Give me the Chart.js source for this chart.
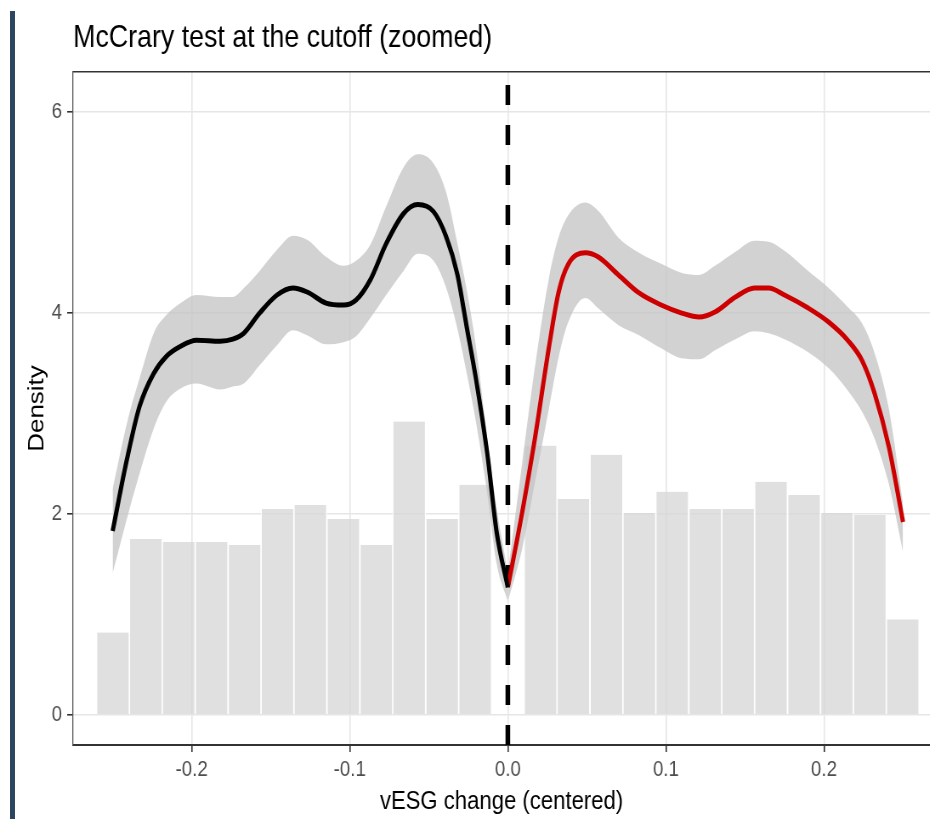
<!DOCTYPE html>
<html>
<head>
<meta charset="utf-8">
<script src="https://cdn.jsdelivr.net/npm/chart.js@4.4.1/dist/chart.umd.min.js"></script>
<style>
  html, body { margin: 0; padding: 0; background: #fff; overflow: hidden; width: 930px; height: 819px; }
  #wrap { position: absolute; left: 0; top: 0; width: 1094px; height: 819px; transform: scaleX(0.85); transform-origin: 0 0; }
  #c { display: block; width: 1094px; height: 819px; }
  #rule { position: absolute; left: 10px; top: 11px; width: 5px; height: 808px; background: #2c4661; }
</style>
</head>
<body>
<div id="wrap"><canvas id="c" width="1094" height="819"></canvas></div>
<div id="rule"></div>
<script>
// Histogram bins (centres and densities) on each side of the cutoff
const binCentersLeft  = [-0.2498, -0.2290, -0.2082, -0.1874, -0.1665, -0.1457, -0.1249, -0.1040, -0.0832, -0.0624, -0.0415, -0.0207];
const binHeightsLeft  = [0.82, 1.75, 1.72, 1.72, 1.69, 2.05, 2.09, 1.95, 1.69, 2.92, 1.95, 2.29];
const binCentersRight = [0.0207, 0.0415, 0.0624, 0.0832, 0.1040, 0.1249, 0.1457, 0.1665, 0.1874, 0.2082, 0.2290, 0.2498];
const binHeightsRight = [2.68, 2.15, 2.59, 2.01, 2.22, 2.05, 2.05, 2.32, 2.19, 2.01, 1.99, 0.95];

// Local-polynomial density estimate left of the cutoff, with its confidence band
const xLeft     = [-0.250, -0.241, -0.233, -0.224, -0.216, -0.207, -0.197, -0.182, -0.174, -0.167, -0.157, -0.146, -0.136, -0.127, -0.115, -0.104, -0.096, -0.087, -0.077, -0.066, -0.057, -0.047, -0.039, -0.032, -0.026, -0.020, -0.013, -0.007, 0.000];
const densLeft  = [1.83, 2.54, 3.07, 3.40, 3.57, 3.67, 3.73, 3.72, 3.74, 3.80, 4.00, 4.18, 4.25, 4.21, 4.10, 4.08, 4.13, 4.33, 4.69, 4.99, 5.08, 5.01, 4.76, 4.39, 3.86, 3.33, 2.60, 1.81, 1.27];
const upperLeft = [2.25, 2.90, 3.35, 3.80, 3.98, 4.10, 4.18, 4.16, 4.16, 4.25, 4.42, 4.63, 4.77, 4.73, 4.56, 4.47, 4.52, 4.68, 5.06, 5.45, 5.58, 5.49, 5.20, 4.70, 4.23, 3.65, 2.75, 2.05, 1.42];
const lowerLeft = [1.41, 1.95, 2.40, 2.85, 3.12, 3.25, 3.30, 3.24, 3.27, 3.30, 3.48, 3.68, 3.83, 3.78, 3.69, 3.71, 3.77, 3.95, 4.18, 4.42, 4.59, 4.52, 4.25, 3.85, 3.40, 2.90, 2.20, 1.50, 1.13];

// Density estimate right of the cutoff, with its confidence band
const xRight     = [0.000, 0.009, 0.017, 0.026, 0.032, 0.038, 0.049, 0.057, 0.070, 0.083, 0.097, 0.110, 0.121, 0.131, 0.144, 0.156, 0.165, 0.175, 0.190, 0.203, 0.215, 0.224, 0.232, 0.241, 0.250];
const densRight  = [1.27, 2.01, 2.74, 3.66, 4.20, 4.48, 4.60, 4.56, 4.38, 4.20, 4.08, 4.00, 3.96, 4.01, 4.16, 4.25, 4.25, 4.18, 4.05, 3.91, 3.73, 3.53, 3.20, 2.67, 1.92];
const upperRight = [1.42, 2.50, 3.45, 4.35, 4.75, 4.97, 5.10, 5.02, 4.75, 4.60, 4.49, 4.40, 4.38, 4.47, 4.61, 4.72, 4.71, 4.62, 4.42, 4.25, 4.06, 3.90, 3.60, 3.05, 2.10];
const lowerRight = [1.13, 1.65, 2.30, 3.05, 3.55, 3.90, 4.15, 4.05, 3.88, 3.78, 3.65, 3.55, 3.54, 3.63, 3.74, 3.82, 3.80, 3.74, 3.61, 3.45, 3.23, 3.02, 2.75, 2.30, 1.62];

// Cutoff and axis ticks
const cutoff = 0;
const xTickValues = [-0.2, -0.1, 0.0, 0.1, 0.2];
const xTickLabels = ['-0.2', '-0.1', '0.0', '0.1', '0.2'];
const yTickValues = [0, 2, 4, 6];
const yTickLabels = ['0', '2', '4', '6'];

const X_MIN = -0.275, X_MAX = 0.267, Y_MIN = -0.3, Y_MAX = 6.4;
const FONT = "'Liberation Sans', Arial, Helvetica, sans-serif";

const pts = (xs, ys) => xs.map((x, i) => ({ x: x, y: ys[i] }));

const bandStyle = { type: 'line', borderWidth: 0, pointRadius: 0, cubicInterpolationMode: 'monotone', order: 3 };
const curveStyle = { type: 'line', borderWidth: 5, pointRadius: 0, cubicInterpolationMode: 'monotone', fill: false, order: 1 };

// Title starts at the left edge of the plotting panel
const titleToPanel = {
  id: 'titleToPanel',
  afterLayout(chart) {
    if (chart.titleBlock) chart.titleBlock.left = chart.chartArea.left;
  }
};

new Chart(document.getElementById('c'), {
  type: 'line',
  data: {
    datasets: [
      Object.assign({}, bandStyle, { label: 'upper L', data: pts(xLeft, upperLeft), fill: '+1', backgroundColor: 'rgba(196,196,196,0.76)' }),
      Object.assign({}, bandStyle, { label: 'lower L', data: pts(xLeft, lowerLeft), fill: false }),
      Object.assign({}, bandStyle, { label: 'upper R', data: pts(xRight, upperRight), fill: '+1', backgroundColor: 'rgba(196,196,196,0.76)' }),
      Object.assign({}, bandStyle, { label: 'lower R', data: pts(xRight, lowerRight), fill: false }),
      Object.assign({}, curveStyle, { label: 'left', data: pts(xLeft, densLeft), borderColor: '#000000' }),
      Object.assign({}, curveStyle, { label: 'right', data: pts(xRight, densRight), borderColor: '#cc0000' }),
      {
        type: 'line', label: 'cutoff',
        data: [{ x: cutoff, y: Y_MIN }, { x: cutoff, y: Y_MAX }],
        borderColor: '#000000', borderWidth: 5.5, borderDash: [20, 20], borderCapStyle: 'butt',
        pointRadius: 0, tension: 0, fill: false, order: 2
      },
      {
        type: 'bar', label: 'histogram',
        data: pts(binCentersLeft.concat(binCentersRight), binHeightsLeft.concat(binHeightsRight)),
        backgroundColor: 'rgba(214,214,214,0.75)',
        borderColor: '#ffffff',
        borderWidth: { left: 1.2, right: 1.2, top: 0, bottom: 0 },
        borderSkipped: false,
        barPercentage: 1, categoryPercentage: 1, grouped: false,
        order: 4
      }
    ]
  },
  options: {
    responsive: false,
    animation: false,
    events: [],
    layout: { padding: 0, autoPadding: false },
    plugins: {
      legend: { display: false },
      tooltip: { enabled: false },
      title: {
        display: true,
        text: 'McCrary test at the cutoff (zoomed)',
        align: 'start',
        color: '#000000',
        font: { family: FONT, size: 31.5, weight: 'normal' },
        padding: { top: 19.4, bottom: 14.8 }
      }
    },
    scales: {
      x: {
        type: 'linear', position: 'bottom', min: X_MIN, max: X_MAX, offset: false,
        afterBuildTicks: s => { s.ticks = xTickValues.map(v => ({ value: v })); },
        afterFit: s => { s.height = 74; },
        ticks: {
          autoSkip: false, maxRotation: 0, color: '#4d4d4d', padding: 5,
          font: { family: FONT, size: 22 },
          callback: (v, i) => xTickLabels[i]
        },
        grid: { offset: false, color: '#e6e6e6', lineWidth: 1.6, drawTicks: true, tickLength: 7, tickColor: '#333333', tickWidth: 1.6 },
        border: { display: true, color: '#333333', width: 2 },
        title: { display: true, text: 'vESG change (centered)', color: '#000000', font: { family: FONT, size: 26 }, padding: { top: 0, bottom: 2 } }
      },
      xTop: {
        type: 'linear', position: 'top', min: X_MIN, max: X_MAX, display: true, offset: false,
        afterFit: s => { s.height = 0; },
        ticks: { display: false },
        grid: { display: false, drawTicks: false, offset: false },
        border: { display: true, color: '#333333', width: 1.5 }
      },
      y: {
        type: 'linear', position: 'left', min: Y_MIN, max: Y_MAX,
        afterBuildTicks: s => { s.ticks = yTickValues.map(v => ({ value: v })); },
        afterFit: s => { s.width = 86; },
        ticks: {
          autoSkip: false, color: '#4d4d4d', padding: 6,
          font: { family: FONT, size: 22 },
          callback: (v, i) => yTickLabels[i]
        },
        grid: { color: '#e6e6e6', lineWidth: 1.6, drawTicks: true, tickLength: 7, tickColor: '#333333', tickWidth: 1.6 },
        border: { display: true, color: '#555555', width: 1.3 },
        title: { display: true, text: 'Density', color: '#000000', font: { family: FONT, size: 26 }, padding: { top: 28, bottom: 0 } }
      }
    }
  },
  plugins: [titleToPanel]
});
</script>
</body>
</html>
